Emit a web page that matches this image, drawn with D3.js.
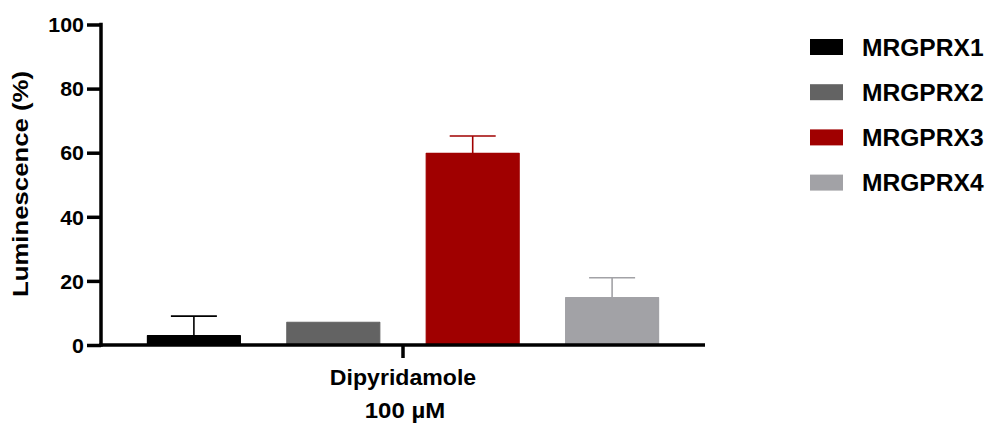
<!DOCTYPE html>
<html>
<head>
<meta charset="utf-8">
<script src="https://cdn.jsdelivr.net/npm/d3@7/dist/d3.min.js"></script>
<style>
  html, body { margin: 0; padding: 0; background: #fff; }
  svg { display: block; }
  text { font-family: "Liberation Sans", Arial, Helvetica, sans-serif; font-weight: bold; fill: #000; }
</style>
</head>
<body>
<svg id="chart" width="990" height="423"></svg>
<script>
// Data
const treatments = ["Dipyridamole"];
const treatmentSub = ["100 µM"];
const receptors = ["MRGPRX1", "MRGPRX2", "MRGPRX3", "MRGPRX4"];
const meanValues = [2.9, 7.1, 59.8, 14.8];
const errorValues = [6.1, 0, 5.4, 6.2];
const barColors = ["#000000", "#636363", "#a00000", "#a2a2a6"];
const yTicks = [0, 20, 40, 60, 80, 100];

const svg = d3.select("#chart");

const y = d3.scaleLinear().domain([0, 100]).range([345, 24.5]);
const x0 = d3.scaleBand().domain(treatments).range([101, 705]).paddingOuter(0.0416).paddingInner(0);
const x1 = d3.scaleBand().domain(receptors)
  .range([x0(treatments[0]), x0(treatments[0]) + x0.bandwidth()])
  .paddingInner(1 / 3).paddingOuter(1 / 6);

// Bars
const bars = svg.append("g");
receptors.forEach((r, i) => {
  bars.append("rect")
    .attr("x", x1(r))
    .attr("y", y(meanValues[i]))
    .attr("width", x1.bandwidth())
    .attr("height", y(0) - y(meanValues[i]))
    .attr("fill", barColors[i])
    .attr("stroke", barColors[i])
    .attr("stroke-width", 1.2)
    .attr("stroke-linejoin", "round");
});

// Error bars (upper only)
const capHalf = 23;
receptors.forEach((r, i) => {
  if (errorValues[i] <= 0) return;
  const cx = x1(r) + x1.bandwidth() / 2;
  const top = y(meanValues[i] + errorValues[i]);
  const g = svg.append("g").attr("stroke", barColors[i]).attr("stroke-width", 1.6);
  g.append("line").attr("x1", cx).attr("x2", cx).attr("y1", y(meanValues[i])).attr("y2", top);
  g.append("line").attr("x1", cx - capHalf).attr("x2", cx + capHalf).attr("y1", top).attr("y2", top);
});

// Y axis
const yAxis = svg.append("g")
  .attr("transform", "translate(101,0)")
  .call(d3.axisLeft(y).tickValues(yTicks).tickSize(14).tickSizeOuter(0).tickPadding(3));
yAxis.select(".domain").attr("stroke", "#000").attr("stroke-width", 3.5)
  .attr("d", `M0,${y(100) - 1.75}V${y(0) + 1.75}`);
yAxis.selectAll(".tick line").attr("stroke", "#000").attr("stroke-width", 3.5);
yAxis.selectAll(".tick text")
  .attr("x", null)
  .attr("dy", "0.36em")
  .style("font-size", "20px")
  .attr("transform", "translate(-17,0) scale(1.07,1)");

// X axis
const xAxis = svg.append("g")
  .attr("transform", `translate(0,${y(0)})`)
  .call(d3.axisBottom(x0).tickSize(13).tickSizeOuter(0).tickFormat(""));
xAxis.select(".domain").attr("stroke", "#000").attr("stroke-width", 3.5)
  .attr("d", `M${101 - 1.75},0H705`);
xAxis.selectAll(".tick line").attr("stroke", "#000").attr("stroke-width", 3.5);

// Category labels
treatments.forEach((t, i) => {
  const cx = x0(t) + x0.bandwidth() / 2;
  svg.append("text")
    .attr("text-anchor", "middle")
    .style("font-size", "22px")
    .attr("transform", `translate(${cx},385) scale(1.05,1)`)
    .text(t);
  svg.append("text")
    .attr("text-anchor", "middle")
    .style("font-size", "22px")
    .attr("transform", `translate(${cx + 2},418) scale(1.09,1)`)
    .text(treatmentSub[i]);
});

// Y axis title
svg.append("text")
  .attr("text-anchor", "middle")
  .style("font-size", "22px")
  .attr("transform", "translate(27.5,184) rotate(-90) scale(1.17,1)")
  .text("Luminescence (%)");

// Legend
const legend = svg.append("g");
receptors.forEach((r, i) => {
  const cy = 47 + i * 45.2;
  legend.append("rect")
    .attr("x", 810).attr("y", cy - 8)
    .attr("width", 33).attr("height", 16)
    .attr("fill", barColors[i]);
  legend.append("text")
    .style("font-size", "23px")
    .attr("transform", `translate(862,${cy + 8.5}) scale(1.07,1)`)
    .text(r);
});
</script>
</body>
</html>
